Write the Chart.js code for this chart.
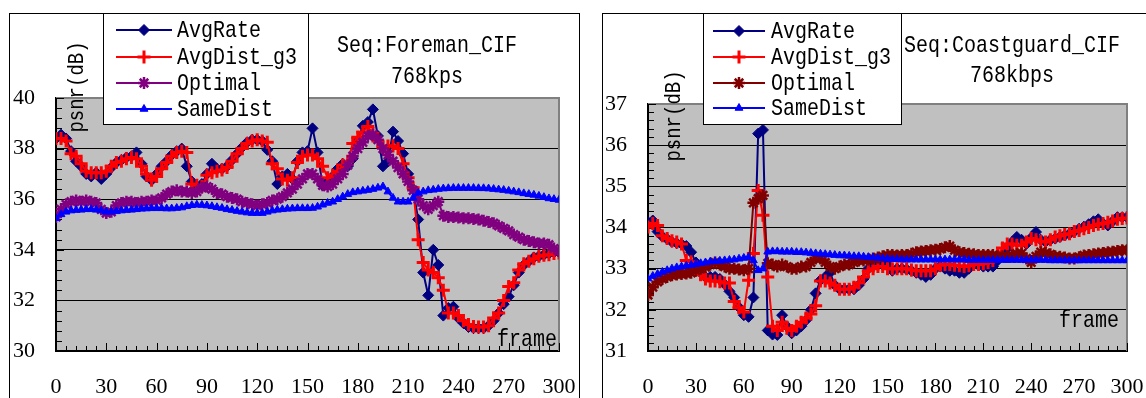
<!DOCTYPE html>
<html><head><meta charset="utf-8">
<script src="https://cdn.jsdelivr.net/npm/chart.js@4.4.1/dist/chart.umd.min.js"></script>
<style>
html,body{margin:0;padding:0;width:1146px;height:398px;overflow:hidden;background:#fff}
.frame{position:absolute;border:1px solid #000;box-sizing:border-box}
#f1{left:9px;top:13px;width:571px;height:420px}
#f2{left:602px;top:13px;width:600px;height:420px}
#w1{position:absolute;left:0;top:0;width:590px;height:398px}
#w2{position:absolute;left:590px;top:0;width:556px;height:398px}
</style></head><body>
<div class="frame" id="f1"></div><div class="frame" id="f2"></div>
<div id="w1"><canvas id="c1"></canvas></div>
<div id="w2"><canvas id="c2"></canvas></div>
<script>
// ---------- DATA ----------
const frames = [0,3,6,9,12,15,18,21,24,27,30,33,36,39,42,45,48,51,54,57,60,63,66,69,72,75,78,81,84,87,90,93,96,99,102,105,108,111,114,117,120,123,126,129,132,135,138,141,144,147,150,153,156,159,162,165,168,171,174,177,180,183,186,189,192,195,198,201,204,207,210,213,216,219,222,225,228,231,234,237,240,243,246,249,252,255,258,261,264,267,270,273,276,279,282,285,288,291,294,297,300];
const seriesNames = ['AvgRate','AvgDist_g3','Optimal','SameDist'];
const xTicksFrames = [0,30,60,90,120,150,180,210,240,270,300];

// Foreman_CIF 768kps
const foremanAvgRate = [38.4,38.55,38.4,37.9,37.5,37.3,37.0,36.9,37.05,36.8,
 37.0,37.25,37.45,37.55,37.65,37.7,37.85,37.4,36.9,36.75,
 37.0,37.3,37.5,37.75,37.9,38.0,37.3,36.7,36.5,36.6,
 37.0,37.4,37.2,37.2,37.3,37.55,37.8,38.05,38.25,38.35,
 38.35,38.3,37.95,37.5,36.6,36.9,37.0,36.8,37.5,37.85,
 37.9,38.8,37.85,36.55,36.7,36.9,37.2,37.4,37.3,37.6,
 38.3,38.9,39.05,39.55,38.5,37.3,37.5,38.67,38.3,37.8,
 37.0,36.4,35.2,33.1,32.2,34.0,33.4,31.4,31.7,31.75,
 31.3,31.1,30.95,30.9,30.9,30.9,31.0,31.2,31.5,31.85,
 32.15,32.6,33.1,33.4,33.55,33.7,33.75,33.8,33.85,33.9,33.9];
const foremanAvgDist = [38.4,38.4,38.3,37.8,37.7,37.4,37.1,37.05,37.05,37.05,
 37.1,37.3,37.45,37.5,37.6,37.65,37.6,37.3,37.0,36.75,
 36.9,37.2,37.45,37.7,37.85,37.9,37.85,36.6,36.55,36.5,
 36.95,37.05,37.1,37.15,37.25,37.5,37.8,38.0,38.2,38.3,
 38.35,38.3,38.25,37.4,37.2,36.8,36.75,36.85,37.45,37.7,
 37.75,37.75,37.6,37.3,36.85,36.95,37.1,37.35,37.5,38.2,
 38.45,38.65,38.87,38.6,38.3,38.05,38.1,38.1,38.0,37.4,
 36.85,36.45,34.4,33.5,33.2,33.1,32.9,32.4,31.5,31.5,
 31.4,31.2,31.05,30.97,30.95,30.95,31.0,31.3,31.5,32.0,
 32.55,32.7,33.2,33.45,33.55,33.65,33.75,33.78,33.8,33.85,33.87];
const foremanOptimal = [35.3,35.6,35.8,35.9,35.95,35.9,35.95,35.9,35.85,35.6,
 35.45,35.5,35.75,35.85,35.9,35.9,35.85,35.9,35.9,35.95,
 35.95,36.05,36.2,36.3,36.35,36.3,36.3,36.25,36.3,36.45,
 36.5,36.4,36.25,36.2,36.1,36.05,36.0,35.9,35.85,35.8,
 35.75,35.8,35.85,35.95,36.0,36.1,36.25,36.4,36.6,36.8,
 37.0,37.0,36.8,36.55,36.5,36.6,36.8,37.0,37.35,37.7,
 38.0,38.25,38.5,38.55,38.35,38.0,37.75,37.5,37.25,37.0,
 36.7,36.35,36.0,35.75,35.6,35.75,35.9,35.35,35.3,35.3,
 35.28,35.25,35.25,35.22,35.2,35.15,35.1,35.05,34.95,34.85,
 34.75,34.6,34.5,34.4,34.35,34.3,34.25,34.25,34.2,34.05,33.95];
const foremanSameDist = [35.25,35.4,35.5,35.55,35.57,35.58,35.6,35.6,35.58,35.55,
 35.5,35.5,35.52,35.55,35.57,35.58,35.6,35.62,35.63,35.64,
 35.64,35.64,35.63,35.63,35.65,35.67,35.72,35.76,35.78,35.77,
 35.75,35.72,35.68,35.65,35.6,35.57,35.53,35.5,35.47,35.45,
 35.45,35.45,35.5,35.55,35.58,35.6,35.62,35.63,35.64,35.64,
 35.64,35.65,35.7,35.78,35.85,35.9,36.0,36.1,36.2,36.27,
 36.3,36.33,36.36,36.4,36.45,36.5,36.3,36.05,35.9,35.9,
 35.9,36.05,36.25,36.3,36.35,36.37,36.4,36.42,36.43,36.44,
 36.44,36.44,36.44,36.44,36.43,36.43,36.42,36.4,36.38,36.36,
 36.33,36.3,36.27,36.23,36.2,36.17,36.13,36.08,36.03,36.0,35.97];

// Coastguard_CIF 768kbps
const coastAvgRate = [34.13,34.17,33.9,33.78,33.72,33.65,33.62,33.6,33.55,33.4,
 33.15,32.9,32.8,32.8,32.8,32.75,32.62,32.45,32.3,32.06,
 31.87,31.83,32.3,36.28,36.37,31.5,31.4,31.39,31.87,31.6,
 31.43,31.5,31.6,31.75,32.0,32.4,32.72,32.8,32.9,32.6,
 32.5,32.5,32.5,32.5,32.6,32.75,33.0,33.08,33.12,33.17,
 33.1,32.95,33.0,33.0,32.98,32.95,32.9,32.85,32.8,32.85,
 33.0,33.05,33.0,32.95,32.95,32.9,32.9,33.0,33.1,33.08,
 33.05,33.05,33.05,33.2,33.35,33.49,33.65,33.77,33.7,33.6,
 33.75,33.89,33.7,33.65,33.7,33.73,33.77,33.81,33.85,33.9,
 33.97,34.02,34.08,34.15,34.2,34.1,34.05,34.15,34.25,34.25,34.25];
const coastAvgDist = [34.01,34.1,34.05,33.8,33.73,33.68,33.65,33.6,33.2,33.17,
 33.0,32.85,32.75,32.7,32.7,32.68,32.65,32.65,32.2,32.05,
 31.95,32.72,33.37,34.9,34.3,32.8,31.6,31.5,31.7,31.55,
 31.5,31.6,31.7,31.8,31.9,32.1,32.7,32.7,32.65,32.6,
 32.5,32.5,32.5,32.55,32.65,32.8,32.95,33.0,33.05,33.05,
 33.0,33.0,33.0,33.0,33.0,32.97,32.95,32.95,32.95,32.95,
 33.0,33.08,33.1,33.1,33.08,33.07,33.05,33.07,33.1,33.1,
 33.12,33.15,33.2,33.35,33.5,33.6,33.6,33.57,33.57,33.65,
 33.73,33.7,33.66,33.65,33.7,33.77,33.8,33.83,33.85,33.9,
 33.93,33.97,34.0,34.05,34.08,34.1,34.13,34.16,34.2,34.22,34.23];
const coastOptimal = [32.36,32.55,32.68,32.75,32.8,32.84,32.86,32.87,32.88,32.9,
 32.95,33.0,33.04,33.1,33.15,33.1,33.05,33.0,33.0,32.98,
 32.96,33.0,34.6,34.7,34.78,33.13,33.1,33.05,33.1,33.05,
 33.0,33.0,33.05,33.05,33.15,33.25,33.25,33.15,33.05,33.0,
 33.05,33.1,33.1,33.15,33.2,33.2,33.22,33.25,33.27,33.3,
 33.33,33.33,33.32,33.33,33.33,33.36,33.4,33.42,33.43,33.45,
 33.46,33.48,33.52,33.55,33.45,33.4,33.38,33.36,33.35,33.33,
 33.33,33.33,33.33,33.3,33.3,33.29,33.32,33.36,33.37,33.25,
 33.15,33.3,33.4,33.38,33.35,33.3,33.29,33.27,33.25,33.25,
 33.28,33.32,33.33,33.35,33.37,33.38,33.4,33.41,33.43,33.45,33.45];
const coastSameDist = [32.76,32.82,32.87,32.92,32.96,33.0,33.03,33.05,33.07,33.09,
 33.11,33.13,33.15,33.17,33.18,33.19,33.2,33.21,33.22,33.24,
 33.26,33.28,33.2,32.96,33.0,33.41,33.42,33.42,33.41,33.41,
 33.41,33.4,33.4,33.39,33.38,33.37,33.36,33.35,33.34,33.33,
 33.32,33.32,33.31,33.3,33.3,33.29,33.28,33.27,33.26,33.25,
 33.24,33.23,33.23,33.22,33.22,33.22,33.22,33.22,33.22,33.22,
 33.22,33.22,33.22,33.22,33.22,33.22,33.22,33.21,33.21,33.21,
 33.21,33.21,33.21,33.21,33.21,33.21,33.21,33.21,33.21,33.21,
 33.21,33.21,33.21,33.21,33.2,33.2,33.2,33.2,33.2,33.2,
 33.2,33.2,33.2,33.2,33.2,33.2,33.2,33.2,33.2,33.2,33.2];

// ---------- STYLE ----------
const MONO = "'Liberation Mono', monospace";
const SERIF = "'Liberation Serif', serif";
function styles(optColor){
  return [
    {color:'#000080', pointStyle:'rectRot', radius:5.5, pbw:1, order:4},
    {color:'#FF0000', pointStyle:'cross', radius:6.5, pbw:3, order:3},
    {color:optColor, pointStyle:'star', radius:6, pbw:2.5, order:2},
    {color:'#0000FF', pointStyle:'triangle', radius:4.5, pbw:1, order:1}
  ];
}
function toXY(vals){ return vals.map((v,i)=>({x:frames[i], y:v})); }

function tallText(ctx, txt, x, y){
  ctx.save(); ctx.translate(x, y); ctx.scale(1, 1.18); ctx.fillText(txt, 0, 0); ctx.restore();
}

function overlay(o){
  return {
    id:'overlay',
    beforeDraw(chart){
      const a=chart.chartArea, ctx=chart.ctx;
      ctx.save(); ctx.fillStyle='#C0C0C0';
      ctx.fillRect(a.left,a.top,a.right-a.left,a.bottom-a.top); ctx.restore();
    },
    beforeDatasetsDraw(chart){
      const a=chart.chartArea, ctx=chart.ctx, xs=chart.scales.x, ys=chart.scales.y;
      ctx.save();
      ctx.strokeStyle='#808080'; ctx.lineWidth=2;
      ctx.beginPath(); ctx.moveTo(a.left,a.top); ctx.lineTo(a.right,a.top); ctx.lineTo(a.right,a.bottom); ctx.stroke();
      ctx.strokeStyle='#000'; ctx.lineWidth=1; ctx.beginPath();
      const nx=Math.round((xs.max-xs.min)/o.xMinor);
      for(let i=0;i<=nx;i++){
        const px=Math.round(xs.getPixelForValue(xs.min+i*o.xMinor))+0.5;
        const L=(i%5===0)?8:5;
        ctx.moveTo(px,a.bottom); ctx.lineTo(px,a.bottom-L);
      }
      const ny=Math.round((ys.max-ys.min)/o.yMinor);
      for(let i=0;i<=ny;i++){
        const py=Math.round(ys.getPixelForValue(ys.min+i*o.yMinor))+0.5;
        const L=(i%5===0)?8:6;
        ctx.moveTo(a.left,py); ctx.lineTo(a.left+L,py);
      }
      ctx.stroke(); ctx.restore();
    },
    afterDraw(chart){
      const ctx=chart.ctx; ctx.save();
      // legend
      const b=o.legend;
      ctx.fillStyle='#fff'; ctx.fillRect(b.x,b.y,b.w,b.h);
      ctx.strokeStyle='#000'; ctx.lineWidth=1; ctx.strokeRect(b.x+0.5,b.y+0.5,b.w-1,b.h-1);
      ctx.font='20px '+MONO; ctx.textBaseline='middle'; ctx.textAlign='left';
      o.st.forEach((s,i)=>{
        const y=b.rows[i];
        ctx.strokeStyle=s.color; ctx.fillStyle=s.color; ctx.lineWidth=2;
        ctx.beginPath(); ctx.moveTo(b.l1,y); ctx.lineTo(b.l2,y); ctx.stroke();
        ctx.lineWidth=s.pbw;
        Chart.helpers.drawPoint(ctx,{pointStyle:s.pointStyle,radius:s.radius,borderWidth:s.pbw,rotation:0},(b.l1+b.l2)/2,y);
        ctx.fillStyle='#000';
        tallText(ctx, seriesNames[i], b.tx, y+1);
      });
      // title
      ctx.fillStyle='#000'; ctx.textAlign='center'; ctx.font='20px '+MONO;
      tallText(ctx, o.title[0], o.tx, o.ty[0]);
      tallText(ctx, o.title[1], o.tx, o.ty[1]);
      // frame label
      tallText(ctx, 'frame', o.fx, o.fy);
      // y label rotated
      ctx.translate(o.px,o.py); ctx.rotate(-Math.PI/2); ctx.scale(1,1.18);
      ctx.font='19px '+MONO; ctx.fillText('psnr(dB)',0,0);
      ctx.restore();
    }
  };
}

function makeChart(id, vals, optColor, yMin, yMax, yStep, yMinor, layoutPad, yWidth, ov){
  const st=styles(optColor);
  ov.st=st; ov.xMinor=6; ov.yMinor=yMinor;
  return new Chart(document.getElementById(id),{
    type:'line',
    data:{datasets: vals.map((v,i)=>({
      label:seriesNames[i], data:toXY(v), borderColor:st[i].color, backgroundColor:st[i].color,
      borderWidth:2, pointStyle:st[i].pointStyle, pointRadius:st[i].radius, pointHoverRadius:st[i].radius,
      pointBorderWidth:st[i].pbw, pointBackgroundColor:st[i].color, pointBorderColor:st[i].color,
      tension:0, order:st[i].order
    }))},
    options:{
      responsive:true, maintainAspectRatio:false, animation:false, devicePixelRatio:1,
      layout:{padding:layoutPad, autoPadding:false},
      plugins:{legend:{display:false}, tooltip:{enabled:false}, title:{display:false}},
      events:[],
      scales:{
        x:{type:'linear', min:0, max:300,
          afterBuildTicks:(s)=>{ s.ticks = xTicksFrames.map(v=>({value:v})); },
          afterFit:(s)=>{ s.height=47; s.paddingLeft=0; s.paddingRight=0; s.paddingTop=0; s.paddingBottom=0; },
          grid:{display:false, drawTicks:false},
          border:{display:true, color:'#000', width:2},
          ticks:{color:'#000', font:{family:SERIF, size:22}, padding:23, maxRotation:0, autoSkip:false}
        },
        y:{min:yMin, max:yMax,
          afterFit:(s)=>{ s.width=yWidth; s.paddingTop=0; s.paddingBottom=0; },
          grid:{display:true, color:'#000', lineWidth:1, drawTicks:false},
          border:{display:true, color:'#000', width:2},
          ticks:{stepSize:yStep, color:'#000', font:{family:SERIF, size:22}, padding:21}
        }
      }
    },
    plugins:[overlay(ov)]
  });
}

makeChart('c1',[foremanAvgRate,foremanAvgDist,foremanOptimal,foremanSameDist],'#800080',30,40,2,0.4,
  {top:98,right:31,left:0,bottom:0},56,
  {legend:{x:103,y:13,w:206,h:112,rows:[30,57,83,109],l1:116,l2:172,tx:177},
   title:['Seq:Foreman_CIF','768kps'],tx:427,ty:[46,77],fx:527,fy:340,px:77,py:87});
makeChart('c2',[coastAvgRate,coastAvgDist,coastOptimal,coastSameDist],'#800000',31,37,1,0.2,
  {top:104,right:19,left:0,bottom:0},58,
  {legend:{x:113,y:13,w:199,h:112,rows:[31,57,83,108],l1:123,l2:175,tx:181},
   title:['Seq:Coastguard_CIF','768kbps'],tx:422,ty:[46,76],fx:499,fy:321,px:84,py:116});
</script></body></html>
